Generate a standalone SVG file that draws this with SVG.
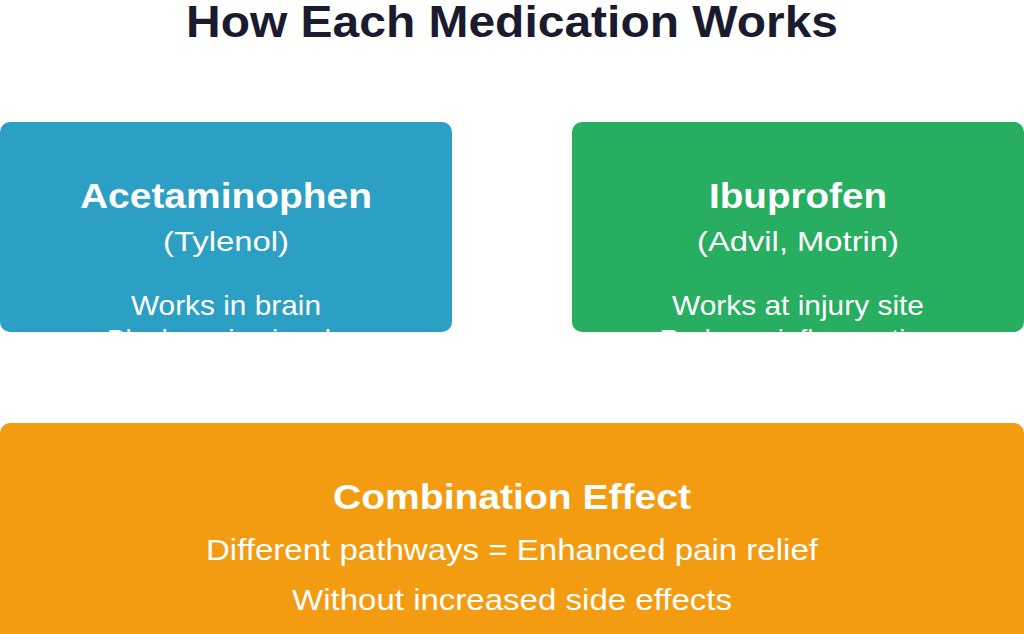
<svg xmlns="http://www.w3.org/2000/svg" width="1024" height="634" viewBox="0 0 1024 634">
<defs>
<style>
.t{font-family:"Liberation Sans",Arial,sans-serif;fill:#fff;text-anchor:middle}
.b{font-weight:bold;font-size:35px}
.r{font-size:28px}
.big{font-size:30px}
</style>
<clipPath id="cl"><rect x="0" y="122" width="452" height="211" rx="10"/></clipPath>
<clipPath id="cr"><rect x="572" y="122" width="452" height="211" rx="10"/></clipPath>
</defs>
<rect width="1024" height="634" fill="#fff"/>
<text x="512" y="37" font-family="Liberation Sans,Arial,sans-serif" font-weight="bold" font-size="44" fill="#1b1b2f" text-anchor="middle" textLength="652" lengthAdjust="spacingAndGlyphs">How Each Medication Works</text>
<g id="acetaminophen">
<rect x="0" y="122" width="452" height="210" rx="10" fill="#2c9fc4"/>
<g clip-path="url(#cl)">
<text class="t b" x="226" y="208" textLength="292" lengthAdjust="spacingAndGlyphs">Acetaminophen</text>
<text class="t r" x="226" y="251" textLength="126" lengthAdjust="spacingAndGlyphs">(Tylenol)</text>
<text class="t r" x="226" y="315" textLength="190" lengthAdjust="spacingAndGlyphs">Works in brain</text>
<text class="t r" x="226" y="349">Blocks pain signals</text>
</g>
</g>
<g id="ibuprofen">
<rect x="572" y="122" width="452" height="210" rx="10" fill="#28ae60"/>
<g clip-path="url(#cr)">
<text class="t b" x="798" y="208" textLength="178" lengthAdjust="spacingAndGlyphs">Ibuprofen</text>
<text class="t r" x="798" y="251" textLength="202" lengthAdjust="spacingAndGlyphs">(Advil, Motrin)</text>
<text class="t r" x="798" y="315" textLength="252" lengthAdjust="spacingAndGlyphs">Works at injury site</text>
<text class="t r" x="798" y="349">Reduces inflammation</text>
</g>
</g>
<g id="combination">
<rect x="0" y="423" width="1024" height="230" rx="10" fill="#f39c12"/>
<text class="t b" x="512" y="509" textLength="358" lengthAdjust="spacingAndGlyphs">Combination Effect</text>
<text class="t big" x="512" y="560" textLength="612" lengthAdjust="spacingAndGlyphs">Different pathways = Enhanced pain relief</text>
<text class="t big" x="512" y="610" textLength="440" lengthAdjust="spacingAndGlyphs">Without increased side effects</text>
</g>
<g id="connectors"/>
</svg>
